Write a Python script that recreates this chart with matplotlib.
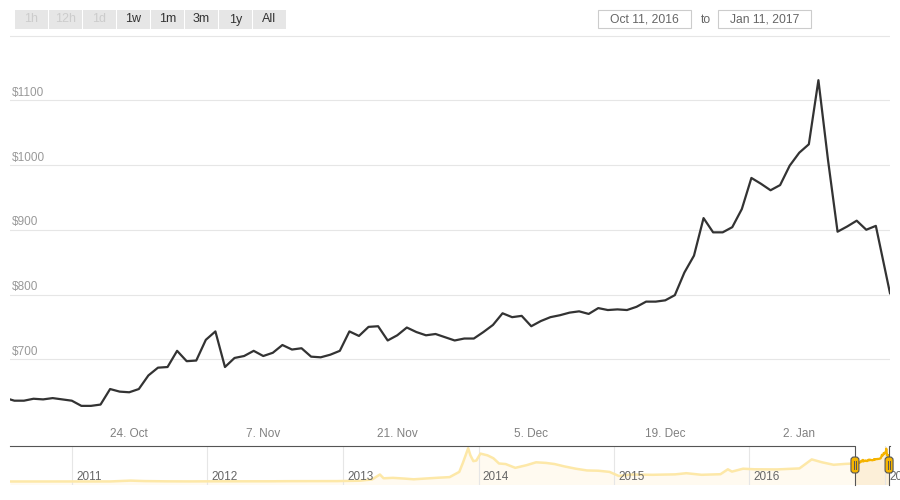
import matplotlib.pyplot as plt
import matplotlib.dates as mdates
import numpy as np
import pandas as pd
from matplotlib.patches import FancyBboxPatch, Rectangle

plt.rcParams['font.family'] = ['Liberation Sans', 'DejaVu Sans']

# main series: BTC price, Oct 11 2016 - Jan 11 2017 (daily, first/last points partial days)
main_dates = (["2016-10-11 13:00"]
              + [d.strftime("%Y-%m-%d 00:00") for d in pd.date_range("2016-10-12", "2017-01-10")]
              + ["2017-01-11 11:30"])
main_prices = [
    638, 636, 636, 639, 638, 640, 638, 636, 628, 628, 630,            # Oct 11-21
    654, 650, 649, 654, 675, 687, 688, 713, 697, 698,                 # Oct 22-31
    730, 743, 688, 702, 705, 713, 705, 710, 722, 715,                 # Nov 1-10
    717, 704, 703, 707, 713, 743, 736, 750, 751, 729,                 # Nov 11-20
    737, 749, 742, 737, 739, 734, 729, 732, 732, 742,                 # Nov 21-30
    753, 771, 765, 767, 751, 759, 765, 768, 772, 774,                 # Dec 1-10
    770, 779, 776, 777, 776, 781, 789, 789, 791, 799,                 # Dec 11-20
    834, 860, 918, 896, 896, 904, 932, 980, 971, 961, 969,            # Dec 21-31
    999, 1019, 1032, 1131, 1008, 897, 905, 914, 900, 906,             # Jan 1-10
    802,                                                              # Jan 11
]

x_ticks = ["2016-10-24", "2016-11-07", "2016-11-21", "2016-12-05", "2016-12-19", "2017-01-02"]
x_labels = ["24. Oct", "7. Nov", "21. Nov", "5. Dec", "19. Dec", "2. Jan"]
y_ticks = [700, 800, 900, 1000, 1100]
y_grid = [700, 800, 900, 1000, 1100, 1200]

# navigator: full history (rough points read from the small overview strip)
nav_dates = ["2010-07-18", "2010-11-01", "2011-02-01", "2011-04-15", "2011-06-08", "2011-07-15",
             "2011-09-15", "2011-11-15", "2012-01-15", "2012-06-15", "2012-08-15", "2012-12-15",
             "2013-02-15", "2013-03-20", "2013-04-10", "2013-04-20", "2013-05-15", "2013-06-15",
             "2013-07-10", "2013-08-15", "2013-09-15", "2013-10-15", "2013-11-10", "2013-11-20",
             "2013-12-04", "2013-12-10", "2013-12-18", "2013-12-26", "2014-01-06", "2014-01-25",
             "2014-02-10", "2014-02-25", "2014-03-15", "2014-04-10", "2014-05-10", "2014-06-05",
             "2014-07-01", "2014-07-25", "2014-08-20", "2014-09-20", "2014-10-20", "2014-11-20",
             "2014-12-20", "2015-01-14", "2015-02-15", "2015-04-15", "2015-06-15", "2015-07-15",
             "2015-08-25", "2015-10-15", "2015-11-04", "2015-11-15", "2015-12-15", "2016-01-15",
             "2016-03-15", "2016-05-15", "2016-06-17", "2016-07-15", "2016-08-15", "2016-09-15",
             "2016-10-10"]
nav_prices = [0.06, 0.3, 0.9, 1.5, 30, 14,
              5, 2.5, 6, 6.5, 11, 13,
              27, 70, 240, 110, 125, 100,
              75, 105, 130, 150, 330, 650,
              1147, 900, 700, 720, 960, 900,
              800, 620, 600, 470, 560, 660,
              640, 600, 520, 440, 380, 370,
              330, 190, 240, 230, 245, 285,
              230, 250, 420, 340, 440, 420,
              415, 450, 760, 660, 575, 605,
              620]
years = [2011, 2012, 2013, 2014, 2015, 2016, 2017]

buttons = ["1h", "12h", "1d", "1w", "1m", "3m", "1y", "All"]
disabled = ["1h", "12h", "1d"]
date_from, date_to = "Oct 11, 2016", "Jan 11, 2017"

W, H = 900, 500


def box(l, t, r, b):
    return [l / W, 1 - b / H, (r - l) / W, (b - t) / H]


fig = plt.figure(figsize=(9, 5), dpi=100)
fig.patch.set_facecolor("white")

# --- main chart ($700 at y=359.3 px, 64.75 px per $100)
mx = mdates.date2num(pd.to_datetime(main_dates, format="%Y-%m-%d %H:%M"))
ax = fig.add_axes(box(10, 30, 890, 424))
ax.axis("off")
for v in y_grid:
    ax.axhline(v, color="#e6e6e6", lw=0.8, zorder=0)
ax.plot(mx, main_prices, color="#333333", lw=1.6, solid_joinstyle="round", zorder=3)
ax.set_xlim(mx[0], mx[-1])
ax.set_ylim(600, 1208.5)

for v in y_ticks:
    ax.annotate(f"${v}", xy=(0, v), xycoords=("axes fraction", "data"), xytext=(2, 1.5),
                textcoords="offset pixels", ha="left", va="bottom", fontsize=8.5, color="#999999")
for d, lbl in zip(mdates.date2num(pd.to_datetime(x_ticks)), x_labels):
    ax.annotate(lbl, xy=(d, 0), xycoords=("data", "axes fraction"), xytext=(0, -10),
                textcoords="offset pixels", ha="center", va="center", fontsize=8.5,
                color="#808080", annotation_clip=False)

# --- navigator
nx = mdates.date2num(pd.to_datetime(nav_dates))
nav_lo = mdates.date2num(pd.Timestamp("2010-07-18"))
nav_hi = mdates.date2num(pd.Timestamp("2017-01-14"))
nav = fig.add_axes(box(10, 445.5, 890, 484.5))
nav.axis("off")
nav.set_xlim(nav_lo, nav_hi)
nav.set_ylim(-104, 1239)

hist_x = nx.tolist() + [mx[0]]
hist_y = nav_prices + [main_prices[0]]
nav.fill_between(hist_x, hist_y, -104, color="#fffaf0", lw=0, zorder=1)
nav.fill_between(mx, main_prices, -104, color="#fcefd8", lw=0, zorder=1)
for y in years:
    nav.axvline(mdates.date2num(pd.Timestamp(f"{y}-01-01")), color="#e6e6e6", lw=0.8, zorder=2)
nav.plot(hist_x, hist_y, color="#fde8a8", lw=1.8, zorder=3)
nav.plot(mx, main_prices, color="#f5b300", lw=1.6, zorder=3)

for y in years:
    nav.annotate(str(y), xy=(mdates.date2num(pd.Timestamp(f"{y}-01-01")), 0),
                 xycoords=("data", "axes fraction"), xytext=(4, 7), textcoords="offset pixels",
                 ha="left", va="center", fontsize=8.5, color="#666666", annotation_clip=False)

tr = nav.get_xaxis_transform()
s0, s1 = mx[0], mx[-1]
nav.plot([nav_lo, s0, s0], [1, 1, 0], color="#555555", lw=0.8, transform=tr, zorder=4, clip_on=False)
nav.plot([s1, s1, nav_hi], [0, 1, 1], color="#555555", lw=0.8, transform=tr, zorder=4, clip_on=False)

# --- overlay in pixel coordinates for the UI chrome
ui = fig.add_axes([0, 0, 1, 1])
ui.axis("off")
ui.set_xlim(0, W)
ui.set_ylim(H, 0)
ui.patch.set_alpha(0)

for s in (s0, s1):
    px = 10 + (s - nav_lo) / (nav_hi - nav_lo) * 880
    ui.add_patch(FancyBboxPatch((px - 4, 457), 8, 16, boxstyle="round,pad=0,rounding_size=3",
                                fc="#f5b400", ec="#555555", lw=0.8, zorder=5))
    for dx in (-1.2, 1.2):
        ui.plot([px + dx, px + dx], [461, 469], color="#555555", lw=0.7, zorder=6)

for i, b in enumerate(buttons):
    x0 = 15 + i * 34
    ui.add_patch(Rectangle((x0, 10), 32.5, 19, fc="#e6e6e6", ec="none"))
    ui.text(x0 + 16.25, 19.5, b, ha="center", va="center", fontsize=9,
            color="#cccccc" if b in disabled else "#333333")

ui.add_patch(Rectangle((598, 10), 93, 18, fc="white", ec="#cccccc", lw=0.8))
ui.add_patch(Rectangle((718, 10), 93, 18, fc="white", ec="#cccccc", lw=0.8))
ui.text(644.5, 19.5, date_from, ha="center", va="center", fontsize=8.7, color="#666666")
ui.text(706, 20, "to", ha="center", va="center", fontsize=8.7, color="#666666")
ui.text(764.5, 19.5, date_to, ha="center", va="center", fontsize=8.7, color="#666666")

fig.savefig("out.png", dpi=100)
